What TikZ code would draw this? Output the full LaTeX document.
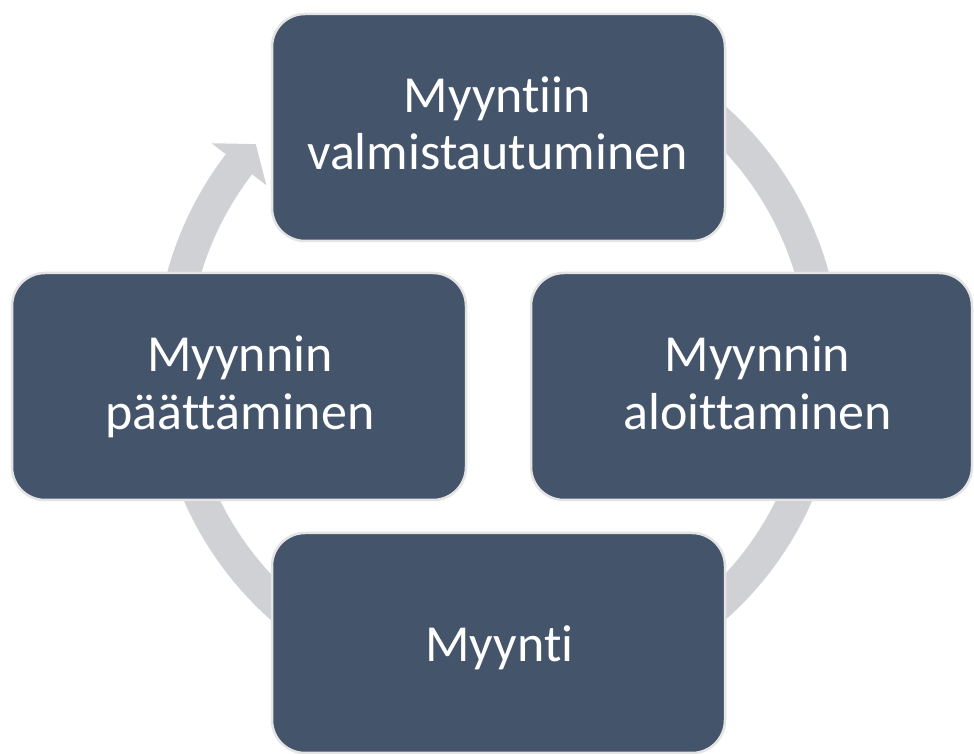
\documentclass[tikz,border=0pt]{standalone}
\usepackage{fontspec}
\setmainfont{Carlito}[Ligatures=NoCommon]
\usetikzlibrary{calc}
\definecolor{boxfill}{HTML}{44546A}
\definecolor{boxedge}{HTML}{E4E4E4}
\definecolor{ringgrey}{HTML}{D0D1D5}
\begin{document}
\begin{tikzpicture}[x=1pt,y=1pt,
  stagebox/.style={rectangle, rounded corners=33pt, fill=boxfill, draw=boxedge, line width=2.5pt, inner sep=0pt},
  lbl/.style={anchor=base, inner sep=0pt, text=white, font=\fontsize{52}{57}\selectfont}]
\useasboundingbox (0,0) rectangle (974,754);
\fill[white] (0,0) rectangle (974,754);
\coordinate (c) at (498,391);
% circular arrow
\fill[ringgrey] ($(c)+(75:343)$) arc[start angle=75, end angle=-217.5, radius=343]
  -- ($(c)+(-217.5:361)$) -- ($(c)+(-222.1:326.5)$) -- ($(c)+(-217.5:292)$)
  -- ($(c)+(-217.5:310)$) arc[start angle=-217.5, end angle=75, radius=310] -- cycle;
% boxes
\node[stagebox, minimum width=453pt, minimum height=227pt] (top) at (498.5,626.5) {};
\node[stagebox, minimum width=454pt, minimum height=227pt] (left) at (239,367.5) {};
\node[stagebox, minimum width=441pt, minimum height=227pt] (right) at (751.5,367.5) {};
\node[stagebox, minimum width=453pt, minimum height=220pt] (bottom) at (498.5,111) {};
% labels
\node[lbl] (t1) at (497.5,641) {Myyntiin};
\node[lbl] (t2) at (497.5,584) {valmistautuminen};
\node[lbl] (l1) at (240,382.3) {Myynnin};
\node[lbl] (l2) at (240,324) {päättäminen};
\node[lbl] (r1) at (757.5,382.3) {Myynnin};
\node[lbl] (r2) at (757.5,324) {aloittaminen};
\node[lbl] (b1) at (499.5,92.3) {Myynti};
\end{tikzpicture}
\end{document}
